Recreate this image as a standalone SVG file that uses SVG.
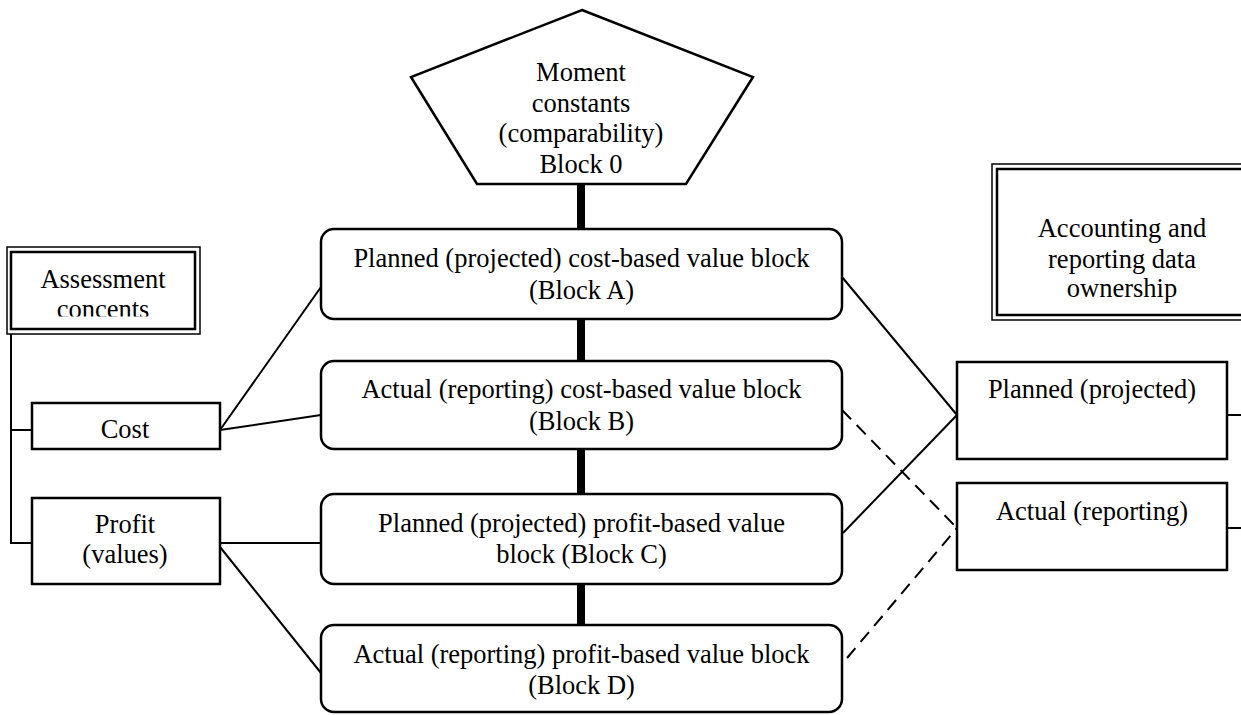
<svg xmlns="http://www.w3.org/2000/svg" width="1241" height="715" viewBox="0 0 1241 715">
<style>
  .t { font-family: "Liberation Serif", "Times New Roman", serif; font-size: 26.5px; fill: #000; text-anchor: middle; }
  .box { fill: #fff; stroke: #000; stroke-width: 2.5; }
  .ln { stroke: #000; stroke-width: 2; fill: none; }
  .dash { stroke: #000; stroke-width: 2; fill: none; stroke-dasharray: 13 8; }
  .thick { stroke: #000; stroke-width: 8; }
  .outer { fill: none; stroke: #000; stroke-width: 1.5; }
  .inner { fill: none; stroke: #000; stroke-width: 2.5; }
</style>
<defs>
  <clipPath id="clipAssess"><rect x="11" y="252" width="184" height="64.5"/></clipPath>
</defs>
<rect width="1241" height="715" fill="#fff"/>

<g id="connectors">
  <line class="thick" x1="581" y1="183" x2="581" y2="230"/>
  <line class="thick" x1="581" y1="318" x2="581" y2="362"/>
  <line class="thick" x1="581" y1="448" x2="581" y2="495"/>
  <line class="thick" x1="581" y1="583" x2="581" y2="626"/>
  <polyline class="ln" points="11,334 11,543 32,543"/>
  <line class="ln" x1="11" y1="430" x2="32" y2="430"/>
  <line class="ln" x1="220" y1="430" x2="321" y2="287"/>
  <line class="ln" x1="220" y1="430" x2="321" y2="415"/>
  <line class="ln" x1="220" y1="543" x2="321" y2="543"/>
  <line class="ln" x1="220" y1="547" x2="321" y2="673"/>
  <line class="ln" x1="842" y1="277" x2="957" y2="415"/>
  <line class="ln" x1="843" y1="533" x2="957" y2="415"/>
  <line class="dash" x1="842" y1="410" x2="957" y2="528"/>
  <line class="dash" x1="847" y1="658" x2="957" y2="528"/>
  <line class="ln" x1="1227" y1="415" x2="1241" y2="415"/>
  <line class="ln" x1="1227" y1="528" x2="1241" y2="528"/>
</g>

<g id="block0">
  <polygon class="box" points="582,10 753,77 686,184 477,184 411,77"/>
  <text class="t" x="581" y="81">Moment</text>
  <text class="t" x="581" y="112">constants</text>
  <text class="t" x="581" y="142">(comparability)</text>
  <text class="t" x="581" y="173">Block 0</text>
</g>

<g id="blockA">
  <rect class="box" x="321" y="229" width="521" height="90" rx="13"/>
  <text class="t" x="581.5" y="267">Planned (projected) cost-based value block</text>
  <text class="t" x="581.5" y="299">(Block A)</text>
</g>

<g id="blockB">
  <rect class="box" x="321" y="361" width="521" height="88" rx="13"/>
  <text class="t" x="581.5" y="398">Actual (reporting) cost-based value block</text>
  <text class="t" x="581.5" y="430">(Block B)</text>
</g>

<g id="blockC">
  <rect class="box" x="321" y="494" width="521" height="90" rx="13"/>
  <text class="t" x="581.5" y="532">Planned (projected) profit-based value</text>
  <text class="t" x="581.5" y="563">block (Block C)</text>
</g>

<g id="blockD">
  <rect class="box" x="321" y="625" width="521" height="87" rx="13"/>
  <text class="t" x="581.5" y="663">Actual (reporting) profit-based value block</text>
  <text class="t" x="581.5" y="694">(Block D)</text>
</g>

<g id="assessment">
  <rect class="outer" x="7" y="247" width="193" height="87"/>
  <rect class="inner" x="11" y="252" width="184" height="77"/>
  <g clip-path="url(#clipAssess)">
    <text class="t" x="103" y="288">Assessment</text>
    <text class="t" x="103" y="318">concents</text>
  </g>
</g>

<g id="cost">
  <rect class="box" x="32" y="403" width="188" height="46"/>
  <text class="t" x="125" y="438">Cost</text>
</g>

<g id="profit">
  <rect class="box" x="32" y="498" width="188" height="86"/>
  <text class="t" x="125" y="533">Profit</text>
  <text class="t" x="125" y="563">(values)</text>
</g>

<g id="accounting">
  <rect class="outer" x="992" y="164" width="260" height="156"/>
  <rect class="inner" x="997" y="169" width="260" height="146"/>
  <text class="t" x="1122" y="237">Accounting and</text>
  <text class="t" x="1122" y="268">reporting data</text>
  <text class="t" x="1122" y="297">ownership</text>
</g>

<g id="planned">
  <rect class="box" x="957" y="362" width="270" height="97"/>
  <text class="t" x="1092" y="398">Planned (projected)</text>
</g>

<g id="actual">
  <rect class="box" x="957" y="483" width="270" height="87"/>
  <text class="t" x="1092" y="520">Actual (reporting)</text>
</g>
</svg>
